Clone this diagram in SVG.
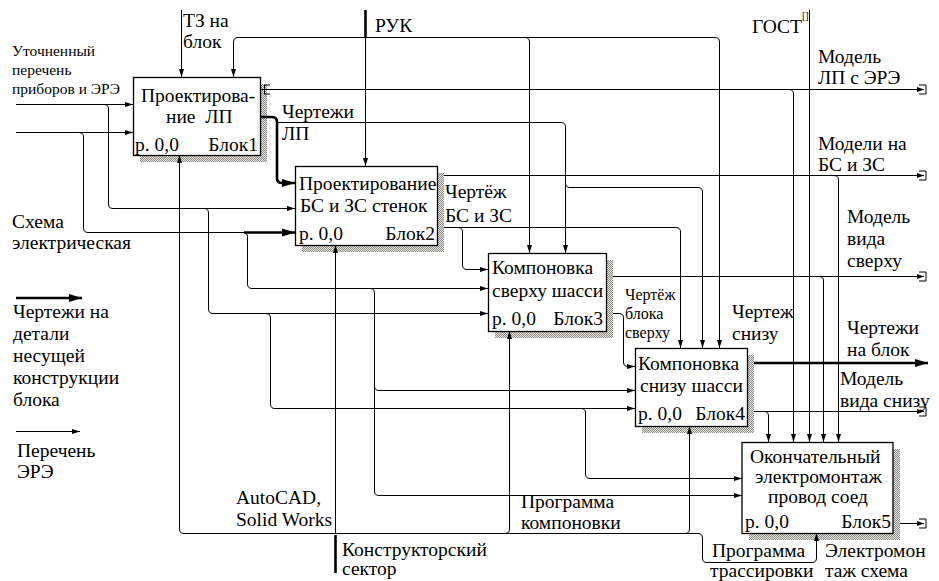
<svg xmlns="http://www.w3.org/2000/svg" width="939" height="581" viewBox="0 0 939 581">
<style>
text{font-family:Liberation Serif,Tinos,Times New Roman,serif;font-size:19.5px;fill:#000}
.s{font-size:16px}
.xs{font-size:15.5px}
.box{fill:#fff;stroke:#000;stroke-width:1.3}
.sh{fill:url(#hatch)}
#connectors path{fill:none;stroke:#000;stroke-width:1}
#connectors .k{stroke-width:2.6}
</style>
<defs>
<pattern id="hatch" width="2" height="2" patternUnits="userSpaceOnUse"><rect width="2" height="2" fill="#e8e4dc"/><rect width="1" height="1" fill="#8a8a8a"/><rect x="1" y="1" width="1" height="1" fill="#8a8a8a"/></pattern>
<marker id="a" markerWidth="8" markerHeight="6" refX="8" refY="3" orient="auto" markerUnits="userSpaceOnUse"><path d="M0,0.5 L8,3 L0,5.5 z" fill="#000"/></marker>
<marker id="as" markerWidth="7" markerHeight="6" refX="7" refY="3" orient="auto" markerUnits="userSpaceOnUse"><path d="M0,0.5 L7,3 L0,5.5 z" fill="#000"/></marker>
<marker id="at" markerWidth="13" markerHeight="9" refX="13" refY="4.5" orient="auto" markerUnits="userSpaceOnUse"><path d="M0,0.5 L13,4.5 L0,8.5 z" fill="#000"/></marker>
</defs>
<rect width="939" height="581" fill="#fff"/>

<g id="block1" font-family="Liberation Serif">
<rect class="sh" x="140" y="84" width="127" height="78"/>
<rect class="box" x="133.5" y="77.5" width="127" height="78"/>
<text x="141" y="102">Проектирова-</text>
<text x="166" y="123" xml:space="preserve">ние  ЛП</text>
<text x="135" y="151">р. 0,0</text>
<text x="258" y="151" text-anchor="end">Блок1</text>
</g>
<g id="block2">
<rect class="sh" x="302" y="173" width="142" height="79"/>
<rect class="box" x="295.5" y="166.5" width="142" height="79"/>
<text x="299" y="190">Проектирование</text>
<text x="300" y="212">БС и ЗС стенок</text>
<text x="299" y="240">р. 0,0</text>
<text x="435" y="240" text-anchor="end">Блок2</text>
</g>
<g id="block3">
<rect class="sh" x="495" y="260" width="118" height="78"/>
<rect class="box" x="488.5" y="253.5" width="118" height="78"/>
<text x="492" y="274">Компоновка</text>
<text x="492" y="297">сверху шасси</text>
<text x="492" y="325">р. 0,0</text>
<text x="603" y="325" text-anchor="end">Блок3</text>
</g>
<g id="block4">
<rect class="sh" x="642" y="355" width="112" height="78"/>
<rect class="box" x="635.5" y="348.5" width="112" height="78"/>
<text x="638" y="370">Компоновка</text>
<text x="640" y="392">снизу шасси</text>
<text x="638" y="420">р. 0,0</text>
<text x="745" y="420" text-anchor="end">Блок4</text>
</g>
<g id="block5">
<rect class="sh" x="749" y="449" width="151" height="91"/>
<rect class="box" x="742" y="442.5" width="151" height="91"/>
<text x="750" y="463">Окончательный</text>
<text x="755" y="483">электромонтаж</text>
<text x="768" y="503">провод соед</text>
<text x="745" y="528">р. 0,0</text>
<text x="891" y="528" text-anchor="end">Блок5</text>
</g>

<g id="connectors">
<path d="M16,104.5 H133" marker-end="url(#a)"/>
<path d="M104,104.5 Q108.5,104.5 108.5,109 V204 Q108.5,208.5 113,208.5 H295" marker-end="url(#a)"/>
<path d="M16,132.5 H133" marker-end="url(#a)"/>
<path d="M79,132.5 Q83.5,132.5 83.5,137 V228 Q83.5,232.5 88,232.5 H246"/>
<path class="k" d="M244,232.5 H295" marker-end="url(#at)"/>
<path d="M243,232.5 Q247.5,232.5 247.5,237 V284 Q247.5,288.5 252,288.5 H488" marker-end="url(#a)"/>
<path d="M370,288.5 Q374.5,288.5 374.5,293 V491 Q374.5,495.5 379,495.5 H742" marker-end="url(#a)"/>
<path d="M374.5,386 Q374.5,390.5 379,390.5 H635" marker-end="url(#a)"/>
<path d="M204,208.5 Q208.5,208.5 208.5,213 V309 Q208.5,313.5 213,313.5 H488" marker-end="url(#a)"/>
<path d="M266,313.5 Q270.5,313.5 270.5,318 V404 Q270.5,408.5 275,408.5 H635" marker-end="url(#a)"/>
<path d="M581,408.5 Q585.5,408.5 585.5,413 V474 Q585.5,478.5 590,478.5 H742" marker-end="url(#a)"/>

<path d="M260,89.5 H924" marker-end="url(#as)"/>
<path d="M270,85 H264.5 V94 H270"/>
<path d="M789,89.5 Q793.5,89.5 793.5,94 V442" marker-end="url(#a)"/>
<path class="k" d="M260,117 H272 Q277,117 277,122 V178 Q277,183 282,183 H295" marker-end="url(#at)"/>
<path d="M277,122.5 H561 Q565.5,122.5 565.5,127 V253" marker-end="url(#a)"/>
<path d="M565.5,183 Q565.5,187.5 570,187.5 H698 Q702.5,187.5 702.5,192 V348" marker-end="url(#a)"/>

<path class="k" d="M365.5,10 V37"/>
<path d="M715,37.5 H238 Q233.5,37.5 233.5,42 V77" marker-end="url(#a)"/>
<path d="M700,37.5 H715 Q719.5,37.5 719.5,42 V348" marker-end="url(#a)"/>
<path d="M365.5,37.5 V166" marker-end="url(#a)"/>
<path d="M525,37.5 Q529.5,37.5 529.5,42 V253" marker-end="url(#a)"/>
<path d="M181.5,10 V77" marker-end="url(#a)"/>
<path d="M809.5,10 V442" marker-end="url(#a)"/>

<path d="M444,175.5 H924" marker-end="url(#as)"/>
<path d="M834,175.5 Q838.5,175.5 838.5,180 V442" marker-end="url(#a)"/>
<path d="M444,227.5 H676 Q680.5,227.5 680.5,232 V348" marker-end="url(#a)"/>
<path d="M458,227.5 Q462.5,227.5 462.5,232 V265 Q462.5,269.5 467,269.5 H488" marker-end="url(#a)"/>

<path d="M613,276.5 H924" marker-end="url(#as)"/>
<path d="M819,276.5 Q823.5,276.5 823.5,281 V442" marker-end="url(#a)"/>
<path d="M613,313.5 H619 Q623.5,313.5 623.5,318 V362 Q623.5,366.5 628,366.5 H635" marker-end="url(#a)"/>

<path class="k" d="M754,363 H928" marker-end="url(#at)"/>
<path d="M754,411.5 H924" marker-end="url(#as)"/>
<path d="M764,411.5 Q768.5,411.5 768.5,416 V442" marker-end="url(#a)"/>

<path d="M900,523.5 H924" marker-end="url(#as)"/>

<path d="M919,85 H926 V94 H919"/>
<path d="M919,171 H926 V180 H919"/>
<path d="M919,272 H926 V281 H919"/>
<path d="M919,407 H926 V416 H919"/>
<path d="M919,519 H926 V528 H919"/>

<path d="M698,533.5 H184 Q179.5,533.5 179.5,529 V155" marker-end="url(#a)"/>
<path class="k" d="M335.5,573 V535"/>
<path d="M335.5,534 V245" marker-end="url(#a)"/>
<path d="M505,533.5 Q509.5,533.5 509.5,529 V331" marker-end="url(#a)"/>
<path d="M685,533.5 Q689.5,533.5 689.5,529 V426" marker-end="url(#a)"/>
<path d="M698,533.5 Q702.5,533.5 702.5,538 V558 Q702.5,562.5 707,562.5 H812 Q816.5,562.5 816.5,558 V533" marker-end="url(#a)"/>

<path class="k" d="M16,298 H82" marker-end="url(#at)"/>
<path d="M16,431.5 H80" marker-end="url(#a)"/>
</g>

<g id="labels">
<text class="xs" x="12" y="56">Уточненный</text>
<text class="xs" x="12" y="75">перечень</text>
<text class="xs" x="12" y="94">приборов и ЭРЭ</text>
<text x="183" y="27">ТЗ на</text>
<text x="183" y="48">блок</text>
<text x="375" y="32">РУК</text>
<text x="752" y="33">ГОСТ<tspan font-size="10" dy="-14">[]</tspan></text>
<text x="818" y="63">Модель</text>
<text x="818" y="84">ЛП с ЭРЭ</text>
<text x="818" y="150">Модели на</text>
<text x="818" y="171">БС и ЗС</text>
<text x="282" y="118">Чертежи</text>
<text x="282" y="140">ЛП</text>
<text x="445" y="198">Чертёж</text>
<text x="445" y="222">БС и ЗС</text>
<text x="847" y="223">Модель</text>
<text x="847" y="245">вида</text>
<text x="847" y="267">сверху</text>
<text class="s" x="625" y="300">Чертёж</text>
<text class="s" x="625" y="319">блока</text>
<text class="s" x="625" y="338">сверху</text>
<text x="732" y="318">Чертеж</text>
<text x="732" y="340">снизу</text>
<text x="847" y="334">Чертежи</text>
<text x="847" y="356">на блок</text>
<text x="840" y="385">Модель</text>
<text x="840" y="407">вида снизу</text>
<text x="12" y="228">Схема</text>
<text x="12" y="249">электрическая</text>
<text x="13" y="318">Чертежи на</text>
<text x="13" y="340">детали</text>
<text x="13" y="362">несущей</text>
<text x="13" y="384">конструкции</text>
<text x="13" y="406">блока</text>
<text x="17" y="457">Перечень</text>
<text x="17" y="478">ЭРЭ</text>
<text x="236" y="504">AutoCAD,</text>
<text x="236" y="526">Solid Works</text>
<text x="521" y="508">Программа</text>
<text x="521" y="529">компоновки</text>
<text x="342" y="556">Конструкторский</text>
<text x="342" y="575">сектор</text>
<text x="712" y="557">Программа</text>
<text x="710" y="577">трассировки</text>
<text x="825" y="557">Электромон</text>
<text x="825" y="577">таж схема</text>
</g>
</svg>
